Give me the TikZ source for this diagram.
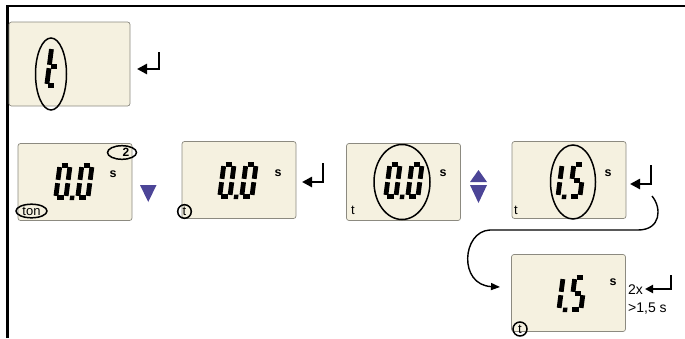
\documentclass[tikz,border=0pt]{standalone}
\usepackage{fontspec}
\setmainfont{Liberation Sans}
\usetikzlibrary{arrows.meta}
\definecolor{lcdfill}{HTML}{F5F1E0}
\definecolor{lcdedge}{HTML}{8C8A80}
\definecolor{tricol}{HTML}{4C4597}
\tikzset{
 lcd/.style={draw=lcdedge, fill=lcdfill, rounded corners=2.5pt, line width=0.7pt, minimum width=114pt, minimum height=77pt, inner sep=0pt, outer sep=0pt},
 seg/.style={line width=4.8pt, line cap=butt, shorten <=1.7pt, shorten >=1.7pt},
 ring/.style={draw=black, line width=1.5pt},
 frame/.style={line width=2.4pt},
 retarr/.style={line width=2.8pt, -{Triangle[length=10pt,width=10pt]}},
 retsmall/.style={line width=2.2pt, -{Triangle[length=8pt,width=8pt]}},
 tri/.style={fill=tricol, draw=none},
 unit/.style={font=\bfseries\fontsize{12.5}{14}\selectfont, inner sep=0pt},
 lbl/.style={font=\fontsize{13}{15}\selectfont, inner sep=0pt},
 side/.style={font=\fontsize{14}{16}\selectfont, inner sep=0pt, anchor=base west},
 flow/.style={line width=1.4pt, -{Triangle[length=9pt,width=7pt]}},
}
\def\W{15}\def\H{37}
\def\e{2.4}
\newcommand\sga{\draw[seg] (\e,\H-\e)--(\W-\e,\H-\e);}
\newcommand\sgb{\draw[seg] (\W-\e,\H-\e)--(\W-\e,\H/2);}
\newcommand\sgc{\draw[seg] (\W-\e,\H/2)--(\W-\e,\e);}
\newcommand\sgd{\draw[seg] (\e,\e)--(\W-\e,\e);}
\newcommand\sge{\draw[seg] (\e,\H/2)--(\e,\e);}
\newcommand\sgf{\draw[seg] (\e,\H-\e)--(\e,\H/2);}
\newcommand\sgg{\draw[seg] (\e,\H/2)--(\W-\e,\H/2);}
\newcommand\sgdot{\fill (\W+1.6,0) rectangle (\W+6,4.4);}
\newcommand\dzero{\sga\sgb\sgc\sgd\sge\sgf}
\newcommand\done{\sgb\sgc}
\newcommand\dfive{\sga\sgf\sgg\sgc\sgd}
\newcommand\dtee{\sgd\sge\sgf\sgg}
\newcommand\digitat[3]{\begin{scope}[shift={(#1,#2)}, x=1pt, y=1pt, xslant=0.13]#3\end{scope}}
\begin{document}
\begin{tikzpicture}[x=1pt,y=-1pt]
\useasboundingbox (0,0) rectangle (685,338);
\draw[frame] (7.5,338) -- (7.5,6) -- (685,6);

% boxes
\node[lcd, minimum width=121pt, minimum height=84pt] (b0) at (69.5,64) {};
\node[lcd] (b1) at (75,182) {};
\node[lcd] (b2) at (239,180) {};
\node[lcd] (b3) at (403.5,182) {};
\node[lcd] (b4) at (569,180) {};
\node[lcd] (b5) at (568.5,293) {};

% top box: t
\begin{scope}\def\H{43}\def\W{14}\digitat{44}{88}{\dtee}\end{scope}
\draw[ring] (51,74) ellipse [x radius=15.5, y radius=36];
\draw[retarr] (159,52) |- (137,69);

% box 1
\digitat{53}{200}{\dzero\sgdot}
\digitat{75}{200}{\dzero}
\node[unit] (s1) at (113,174) {s};
\node[lbl, font=\bfseries\fontsize{12}{14}\selectfont] (n2) at (126,152) {2};
\draw[ring] (122,152.5) ellipse [x radius=14.5, y radius=6.8];
\node[lbl] (ton) at (31.5,211) {ton};
\draw[ring] (31.5,211) ellipse [x radius=15.5, y radius=6.8];
\fill[tri] (140,185) -- (156.5,185) -- (148.25,202) -- cycle;

% box 2
\digitat{217}{199}{\dzero\sgdot}
\digitat{239}{199}{\dzero}
\node[unit] (s2) at (278,173) {s};
\node[lbl] (t2) at (184.5,211.5) {t};
\draw[ring] (184.5,211.5) circle [radius=6.8];
\draw[retarr] (323,163) |- (302,182);

% box 3
\digitat{383}{199}{\dzero\sgdot}
\digitat{405}{199}{\dzero}
\draw[ring] (402,182) ellipse [x radius=28, y radius=37.5];
\node[unit] (s3) at (443,173) {s};
\node[lbl] (t3) at (353,210) {t};
\fill[tri] (470,182) -- (487,182) -- (478.5,170) -- cycle;
\fill[tri] (470,185) -- (487,185) -- (478.5,203) -- cycle;

% box 4
\digitat{545}{199}{\done\sgdot}
\digitat{567}{199}{\dfive}
\draw[ring] (573,182) ellipse [x radius=22.5, y radius=37];
\node[unit] (s4) at (608,173) {s};
\node[lbl] (t4) at (516,210) {t};
\draw[retarr] (651,165) |- (630,184);

% flow connector
\coordinate (fs) at (652,196);
\coordinate (fm1) at (638,230);
\coordinate (fm2) at (490,230);
\coordinate (fe) at (500,287);
\draw[flow] (fs) .. controls (662,208) and (661,230) .. (fm1) -- (fm2)
  .. controls (462,231) and (458,285) .. (fe);

% box 5
\digitat{546}{312}{\done\sgdot}
\digitat{568}{312}{\dfive}
\node[unit] (s5) at (613,282) {s};
\node[lbl] (t5) at (520,329) {t};
\draw[ring] (520,329) circle [radius=7];
\node[side] (x2) at (628,294) {2x};
\draw[retsmall] (671,275) |- (645,289);
\node[side] (gt) at (628,312) {>1,5 s};
\end{tikzpicture}
\end{document}
